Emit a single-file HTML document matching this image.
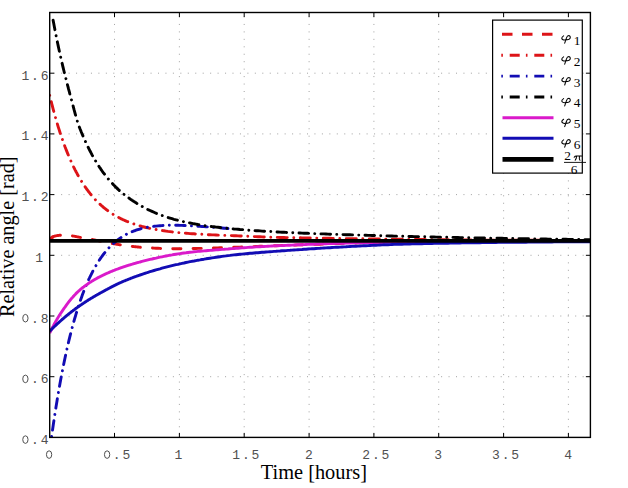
<!DOCTYPE html>
<html><head><meta charset="utf-8"><title>Relative angle plot</title>
<style>
html,body{margin:0;padding:0;background:#fff;}
body{width:628px;height:488px;overflow:hidden;position:relative;font-family:"Liberation Sans",sans-serif;}
</style></head><body>
<svg width="628" height="488" viewBox="0 0 628 488" style="position:absolute;left:0;top:0">
<rect x="0" y="0" width="628" height="488" fill="#fff"/>
<g stroke="#4a4a4a" stroke-width="1" stroke-dasharray="1 6.45" opacity="0.5"><line x1="114.5" y1="16.5" x2="114.5" y2="437.4"/><line x1="179.4" y1="16.5" x2="179.4" y2="437.4"/><line x1="244.2" y1="16.5" x2="244.2" y2="437.4"/><line x1="309.1" y1="16.5" x2="309.1" y2="437.4"/><line x1="373.9" y1="16.5" x2="373.9" y2="437.4"/><line x1="438.7" y1="16.5" x2="438.7" y2="437.4"/><line x1="503.6" y1="16.5" x2="503.6" y2="437.4"/><line x1="568.4" y1="16.5" x2="568.4" y2="437.4"/><line x1="53.7" y1="376.7" x2="590.4" y2="376.7"/><line x1="53.7" y1="316.0" x2="590.4" y2="316.0"/><line x1="53.7" y1="255.3" x2="590.4" y2="255.3"/><line x1="53.7" y1="194.6" x2="590.4" y2="194.6"/><line x1="53.7" y1="133.9" x2="590.4" y2="133.9"/><line x1="53.7" y1="73.2" x2="590.4" y2="73.2"/></g>
<clipPath id="c"><rect x="49.7" y="12.5" width="540.6999999999999" height="424.9"/></clipPath>
<g clip-path="url(#c)" fill="none" stroke-linejoin="round">
<path d="M49.7 238.1 L50.2 237.8 L50.7 237.6 L51.2 237.3 L51.7 237.1 L52.2 236.9 L52.7 236.7 L53.2 236.6 L53.7 236.4 L54.2 236.3 L54.7 236.1 L55.2 236.0 L55.7 235.9 L56.2 235.8 L56.7 235.7 L57.2 235.6 L57.7 235.5 L58.2 235.5 L58.7 235.4 L59.2 235.3 L59.7 235.3 L60.2 235.3 L60.7 235.2 L61.2 235.2 L61.7 235.2 L62.2 235.1 L62.7 235.1 L63.2 235.1 L63.7 235.1 L64.2 235.1 L64.7 235.1 L65.2 235.2 L65.7 235.2 L66.2 235.2 L66.7 235.2 L67.2 235.3 L67.7 235.3 L68.2 235.4 L68.7 235.4 L69.2 235.5 L69.7 235.5 L70.2 235.6 L70.7 235.7 L71.2 235.7 L71.7 235.8 L72.2 235.9 L72.7 236.0 L73.2 236.1 L73.7 236.1 L74.2 236.2 L74.7 236.3 L75.2 236.4 L75.7 236.5 L76.2 236.6 L76.7 236.7 L77.2 236.8 L77.7 236.9 L78.2 237.0 L78.7 237.1 L79.2 237.2 L79.7 237.3 L80.2 237.4 L80.7 237.5 L81.2 237.5 L81.7 237.6 L82.2 237.7 L82.7 237.8 L83.2 237.9 L83.7 238.0 L84.2 238.1 L84.7 238.2 L85.2 238.3 L85.7 238.4 L86.2 238.4 L86.7 238.5 L87.2 238.6 L87.7 238.7 L88.2 238.8 L88.7 238.9 L89.2 239.0 L89.7 239.1 L90.2 239.2 L90.7 239.3 L91.2 239.3 L91.7 239.4 L92.2 239.5 L92.7 239.6 L93.2 239.7 L93.7 239.8 L94.2 239.9 L94.7 240.0 L95.2 240.1 L95.7 240.2 L96.2 240.3 L96.7 240.4 L97.2 240.5 L97.7 240.6 L98.2 240.7 L98.7 240.8 L99.2 240.9 L99.7 241.0 L100.2 241.1 L100.7 241.2 L101.2 241.3 L101.7 241.4 L102.2 241.5 L102.7 241.6 L103.2 241.7 L103.7 241.8 L104.2 241.9 L104.7 242.0 L105.2 242.1 L105.7 242.2 L106.2 242.3 L106.7 242.4 L107.2 242.5 L107.7 242.6 L108.2 242.7 L108.7 242.8 L109.2 242.9 L109.7 243.0 L110.2 243.1 L110.7 243.2 L111.2 243.3 L111.7 243.4 L112.2 243.5 L112.7 243.6 L113.2 243.7 L113.7 243.7 L114.2 243.8 L114.7 243.9 L115.2 244.0 L115.7 244.1 L116.2 244.2 L116.7 244.3 L117.2 244.3 L117.7 244.4 L118.2 244.5 L118.7 244.6 L119.2 244.7 L119.7 244.7 L120.2 244.8 L120.7 244.9 L121.2 245.0 L121.7 245.0 L122.2 245.1 L122.7 245.2 L123.2 245.3 L123.7 245.3 L124.2 245.4 L124.7 245.5 L125.2 245.5 L125.7 245.6 L126.2 245.7 L126.7 245.7 L127.2 245.8 L127.7 245.9 L128.2 245.9 L128.7 246.0 L129.2 246.1 L129.7 246.1 L130.2 246.2 L130.7 246.2 L131.2 246.3 L131.7 246.3 L132.2 246.4 L132.7 246.5 L133.2 246.5 L133.7 246.6 L134.2 246.6 L134.7 246.7 L135.2 246.7 L135.7 246.8 L136.2 246.8 L136.7 246.9 L137.2 246.9 L137.7 247.0 L138.2 247.0 L138.7 247.1 L139.2 247.1 L139.7 247.2 L140.0 247.2 L142.0 247.4 L144.0 247.5 L146.0 247.7 L148.0 247.8 L150.0 247.9 L152.0 248.0 L154.0 248.1 L156.0 248.2 L158.0 248.3 L160.0 248.4 L162.0 248.5 L164.0 248.5 L166.0 248.6 L168.0 248.6 L170.0 248.6 L172.0 248.7 L174.0 248.7 L176.0 248.7 L178.0 248.7 L180.0 248.7 L182.0 248.7 L184.0 248.7 L186.0 248.6 L188.0 248.6 L190.0 248.6 L192.0 248.6 L194.0 248.5 L196.0 248.5 L198.0 248.4 L200.0 248.4 L202.0 248.3 L204.0 248.3 L206.0 248.2 L208.0 248.2 L210.0 248.1 L212.0 248.1 L214.0 248.0 L216.0 247.9 L218.0 247.9 L220.0 247.8 L222.0 247.7 L224.0 247.7 L226.0 247.6 L228.0 247.5 L230.0 247.5 L232.0 247.4 L234.0 247.3 L236.0 247.2 L238.0 247.2 L240.0 247.1 L242.0 247.0 L244.0 246.9 L246.0 246.9 L248.0 246.8 L250.0 246.7 L252.0 246.6 L254.0 246.6 L256.0 246.5 L258.0 246.4 L260.0 246.3 L262.0 246.2 L264.0 246.2 L266.0 246.1 L268.0 246.0 L270.0 245.9 L272.0 245.9 L274.0 245.8 L276.0 245.7 L278.0 245.6 L280.0 245.6 L282.0 245.5 L284.0 245.4 L286.0 245.4 L288.0 245.3 L290.0 245.2 L292.0 245.1 L294.0 245.1 L296.0 245.0 L298.0 244.9 L300.0 244.9 L302.0 244.8 L304.0 244.7 L306.0 244.7 L308.0 244.6 L310.0 244.5 L312.0 244.5 L314.0 244.4 L316.0 244.3 L318.0 244.3 L320.0 244.2 L322.0 244.1 L324.0 244.0 L326.0 244.0 L328.0 243.9 L330.0 243.8 L332.0 243.8 L334.0 243.7 L336.0 243.6 L338.0 243.6 L340.0 243.5 L342.0 243.4 L344.0 243.4 L346.0 243.3 L348.0 243.2 L350.0 243.2 L352.0 243.1 L354.0 243.0 L356.0 243.0 L358.0 242.9 L360.0 242.9 L362.0 242.8 L364.0 242.7 L366.0 242.7 L368.0 242.6 L370.0 242.6 L372.0 242.5 L374.0 242.5 L376.0 242.4 L378.0 242.4 L380.0 242.3 L382.0 242.3 L384.0 242.2 L386.0 242.2 L388.0 242.1 L390.0 242.1 L392.0 242.1 L394.0 242.0 L396.0 242.0 L398.0 242.0 L400.0 241.9 L402.0 241.9 L404.0 241.9 L406.0 241.8 L408.0 241.8 L410.0 241.8 L412.0 241.7 L414.0 241.7 L416.0 241.7 L418.0 241.7 L420.0 241.6 L422.0 241.6 L424.0 241.6 L426.0 241.6 L428.0 241.5 L430.0 241.5 L432.0 241.5 L434.0 241.5 L436.0 241.4 L438.0 241.4 L440.0 241.4 L442.0 241.4 L444.0 241.3 L446.0 241.3 L448.0 241.3 L450.0 241.3 L452.0 241.3 L454.0 241.2 L456.0 241.2 L458.0 241.2 L460.0 241.2 L462.0 241.2 L464.0 241.1 L466.0 241.1 L468.0 241.1 L470.0 241.1 L472.0 241.1 L474.0 241.1 L476.0 241.0 L478.0 241.0 L480.0 241.0 L482.0 241.0 L484.0 241.0 L486.0 241.0 L488.0 241.0 L490.0 240.9 L492.0 240.9 L494.0 240.9 L496.0 240.9 L498.0 240.9 L500.0 240.9 L502.0 240.9 L504.0 240.9 L506.0 240.8 L508.0 240.8 L510.0 240.8 L512.0 240.8 L514.0 240.8 L516.0 240.8 L518.0 240.8 L520.0 240.8 L522.0 240.8 L524.0 240.8 L526.0 240.7 L528.0 240.7 L530.0 240.7 L532.0 240.7 L534.0 240.7 L536.0 240.7 L538.0 240.7 L540.0 240.7 L542.0 240.7 L544.0 240.7 L546.0 240.7 L548.0 240.6 L550.0 240.6 L552.0 240.6 L554.0 240.6 L556.0 240.6 L558.0 240.6 L560.0 240.6 L562.0 240.6 L564.0 240.6 L566.0 240.6 L568.0 240.6 L570.0 240.6 L572.0 240.6 L574.0 240.6 L576.0 240.6 L578.0 240.6 L580.0 240.5 L582.0 240.5 L584.0 240.5 L586.0 240.5 L588.0 240.5 L590.0 240.5 L590.4 240.5" stroke="#dd1418" stroke-width="2.9" stroke-dasharray="8.2 12.1" stroke-dashoffset="17.3" stroke-linecap="round"/>
<path d="M49.7 95.4 L50.2 97.5 L50.7 99.5 L51.2 101.5 L51.7 103.5 L52.2 105.4 L52.7 107.4 L53.2 109.3 L53.7 111.1 L54.2 113.0 L54.7 114.8 L55.2 116.6 L55.7 118.3 L56.2 120.1 L56.7 121.8 L57.2 123.5 L57.7 125.1 L58.2 126.8 L58.7 128.4 L59.2 129.9 L59.7 131.5 L60.2 133.1 L60.7 134.6 L61.2 136.1 L61.7 137.5 L62.2 139.0 L62.7 140.4 L63.2 141.8 L63.7 143.2 L64.2 144.6 L64.7 145.9 L65.2 147.3 L65.7 148.6 L66.2 149.9 L66.7 151.1 L67.2 152.4 L67.7 153.6 L68.2 154.8 L68.7 156.0 L69.2 157.2 L69.7 158.4 L70.2 159.5 L70.7 160.6 L71.2 161.7 L71.7 162.8 L72.2 163.9 L72.7 165.0 L73.2 166.0 L73.7 167.1 L74.2 168.1 L74.7 169.1 L75.2 170.1 L75.7 171.0 L76.2 172.0 L76.7 172.9 L77.2 173.8 L77.7 174.8 L78.2 175.7 L78.7 176.5 L79.2 177.4 L79.7 178.3 L80.2 179.1 L80.7 180.0 L81.2 180.8 L81.7 181.6 L82.2 182.4 L82.7 183.2 L83.2 184.0 L83.7 184.7 L84.2 185.5 L84.7 186.2 L85.2 186.9 L85.7 187.7 L86.2 188.4 L86.7 189.1 L87.2 189.8 L87.7 190.4 L88.2 191.1 L88.7 191.8 L89.2 192.4 L89.7 193.0 L90.2 193.7 L90.7 194.3 L91.2 194.9 L91.7 195.5 L92.2 196.1 L92.7 196.7 L93.2 197.2 L93.7 197.8 L94.2 198.4 L94.7 198.9 L95.2 199.5 L95.7 200.0 L96.2 200.5 L96.7 201.0 L97.2 201.5 L97.7 202.0 L98.2 202.5 L98.7 203.0 L99.2 203.5 L99.7 204.0 L100.2 204.4 L100.7 204.9 L101.2 205.3 L101.7 205.8 L102.2 206.2 L102.7 206.6 L103.2 207.1 L103.7 207.5 L104.2 207.9 L104.7 208.3 L105.2 208.7 L105.7 209.1 L106.2 209.5 L106.7 209.9 L107.2 210.3 L107.7 210.6 L108.2 211.0 L108.7 211.3 L109.2 211.7 L109.7 212.1 L110.2 212.4 L110.7 212.7 L111.2 213.1 L111.7 213.4 L112.2 213.7 L112.7 214.0 L113.2 214.4 L113.7 214.7 L114.2 215.0 L114.7 215.3 L115.2 215.6 L115.7 215.9 L116.2 216.1 L116.7 216.4 L117.2 216.7 L117.7 217.0 L118.2 217.3 L118.7 217.5 L119.2 217.8 L119.7 218.0 L120.2 218.3 L120.7 218.6 L121.2 218.8 L121.7 219.0 L122.2 219.3 L122.7 219.5 L123.2 219.8 L123.7 220.0 L124.2 220.2 L124.7 220.4 L125.2 220.7 L125.7 220.9 L126.2 221.1 L126.7 221.3 L127.2 221.5 L127.7 221.7 L128.2 221.9 L128.7 222.1 L129.2 222.3 L129.7 222.5 L130.2 222.7 L130.7 222.9 L131.2 223.1 L131.7 223.2 L132.2 223.4 L132.7 223.6 L133.2 223.8 L133.7 223.9 L134.2 224.1 L134.7 224.3 L135.2 224.4 L135.7 224.6 L136.2 224.8 L136.7 224.9 L137.2 225.1 L137.7 225.2 L138.2 225.4 L138.7 225.5 L139.2 225.7 L139.7 225.8 L140.0 225.9 L142.0 226.5 L144.0 227.0 L146.0 227.5 L148.0 227.9 L150.0 228.4 L152.0 228.8 L154.0 229.2 L156.0 229.5 L158.0 229.9 L160.0 230.2 L162.0 230.5 L164.0 230.8 L166.0 231.1 L168.0 231.4 L170.0 231.6 L172.0 231.9 L174.0 232.1 L176.0 232.3 L178.0 232.5 L180.0 232.7 L182.0 232.9 L184.0 233.1 L186.0 233.2 L188.0 233.4 L190.0 233.6 L192.0 233.7 L194.0 233.8 L196.0 234.0 L198.0 234.1 L200.0 234.2 L202.0 234.3 L204.0 234.5 L206.0 234.6 L208.0 234.7 L210.0 234.8 L212.0 234.9 L214.0 234.9 L216.0 235.0 L218.0 235.1 L220.0 235.2 L222.0 235.3 L224.0 235.4 L226.0 235.4 L228.0 235.5 L230.0 235.6 L232.0 235.6 L234.0 235.7 L236.0 235.8 L238.0 235.9 L240.0 236.0 L242.0 236.0 L244.0 236.1 L246.0 236.2 L248.0 236.3 L250.0 236.4 L252.0 236.5 L254.0 236.6 L256.0 236.6 L258.0 236.7 L260.0 236.8 L262.0 236.9 L264.0 237.0 L266.0 237.0 L268.0 237.1 L270.0 237.2 L272.0 237.3 L274.0 237.3 L276.0 237.4 L278.0 237.4 L280.0 237.5 L282.0 237.5 L284.0 237.5 L286.0 237.6 L288.0 237.6 L290.0 237.7 L292.0 237.7 L294.0 237.7 L296.0 237.8 L298.0 237.8 L300.0 237.8 L302.0 237.9 L304.0 237.9 L306.0 237.9 L308.0 238.0 L310.0 238.0 L312.0 238.0 L314.0 238.1 L316.0 238.1 L318.0 238.1 L320.0 238.2 L322.0 238.2 L324.0 238.2 L326.0 238.3 L328.0 238.3 L330.0 238.3 L332.0 238.4 L334.0 238.4 L336.0 238.4 L338.0 238.4 L340.0 238.5 L342.0 238.5 L344.0 238.5 L346.0 238.6 L348.0 238.6 L350.0 238.6 L352.0 238.7 L354.0 238.7 L356.0 238.7 L358.0 238.7 L360.0 238.8 L362.0 238.8 L364.0 238.8 L366.0 238.8 L368.0 238.9 L370.0 238.9 L372.0 238.9 L374.0 238.9 L376.0 239.0 L378.0 239.0 L380.0 239.0 L382.0 239.1 L384.0 239.1 L386.0 239.1 L388.0 239.1 L390.0 239.2 L392.0 239.2 L394.0 239.2 L396.0 239.2 L398.0 239.3 L400.0 239.3 L402.0 239.3 L404.0 239.3 L406.0 239.3 L408.0 239.4 L410.0 239.4 L412.0 239.4 L414.0 239.4 L416.0 239.5 L418.0 239.5 L420.0 239.5 L422.0 239.5 L424.0 239.5 L426.0 239.6 L428.0 239.6 L430.0 239.6 L432.0 239.6 L434.0 239.6 L436.0 239.7 L438.0 239.7 L440.0 239.7 L442.0 239.7 L444.0 239.7 L446.0 239.8 L448.0 239.8 L450.0 239.8 L452.0 239.8 L454.0 239.8 L456.0 239.8 L458.0 239.9 L460.0 239.9 L462.0 239.9 L464.0 239.9 L466.0 239.9 L468.0 239.9 L470.0 239.9 L472.0 240.0 L474.0 240.0 L476.0 240.0 L478.0 240.0 L480.0 240.0 L482.0 240.0 L484.0 240.0 L486.0 240.1 L488.0 240.1 L490.0 240.1 L492.0 240.1 L494.0 240.1 L496.0 240.1 L498.0 240.1 L500.0 240.1 L502.0 240.1 L504.0 240.2 L506.0 240.2 L508.0 240.2 L510.0 240.2 L512.0 240.2 L514.0 240.2 L516.0 240.2 L518.0 240.2 L520.0 240.2 L522.0 240.3 L524.0 240.3 L526.0 240.3 L528.0 240.3 L530.0 240.3 L532.0 240.3 L534.0 240.3 L536.0 240.3 L538.0 240.3 L540.0 240.3 L542.0 240.3 L544.0 240.3 L546.0 240.3 L548.0 240.4 L550.0 240.4 L552.0 240.4 L554.0 240.4 L556.0 240.4 L558.0 240.4 L560.0 240.4 L562.0 240.4 L564.0 240.4 L566.0 240.4 L568.0 240.4 L570.0 240.4 L572.0 240.4 L574.0 240.4 L576.0 240.4 L578.0 240.4 L580.0 240.4 L582.0 240.4 L584.0 240.5 L586.0 240.5 L588.0 240.5 L590.0 240.5 L590.4 240.5" stroke="#dd1418" stroke-width="2.9" stroke-dasharray="10 6.5 0.01 6.5" stroke-dashoffset="16.5" stroke-linecap="round"/>
<path d="M51.5 437.2 L52.0 433.7 L52.5 430.2 L53.0 426.7 L53.5 423.3 L54.0 420.0 L54.5 416.7 L55.0 413.4 L55.5 410.2 L56.0 407.1 L56.5 404.0 L57.0 400.9 L57.5 397.9 L58.0 395.0 L58.5 392.0 L59.0 389.2 L59.5 386.3 L60.0 383.6 L60.5 380.8 L61.0 378.1 L61.5 375.5 L62.0 372.8 L62.5 370.3 L63.0 367.7 L63.5 365.2 L64.0 362.8 L64.5 360.4 L65.0 358.0 L65.5 355.6 L66.0 353.3 L66.5 351.1 L67.0 348.8 L67.5 346.6 L68.0 344.5 L68.5 342.3 L69.0 340.2 L69.5 338.2 L70.0 336.1 L70.5 334.1 L71.0 332.2 L71.5 330.2 L72.0 328.3 L72.5 326.4 L73.0 324.6 L73.5 322.8 L74.0 321.0 L74.5 319.2 L75.0 317.5 L75.5 315.8 L76.0 314.1 L76.5 312.5 L77.0 310.8 L77.5 309.3 L78.0 307.7 L78.5 306.1 L79.0 304.6 L79.5 303.1 L80.0 301.6 L80.5 300.2 L81.0 298.8 L81.5 297.4 L82.0 296.0 L82.5 294.6 L83.0 293.3 L83.5 292.0 L84.0 290.7 L84.5 289.4 L85.0 288.2 L85.5 287.0 L86.0 285.8 L86.5 284.6 L87.0 283.4 L87.5 282.3 L88.0 281.1 L88.5 280.0 L89.0 278.9 L89.5 277.9 L90.0 276.8 L90.5 275.8 L91.0 274.8 L91.5 273.8 L92.0 272.8 L92.5 271.8 L93.0 270.8 L93.5 269.9 L94.0 269.0 L94.5 268.1 L95.0 267.2 L95.5 266.3 L96.0 265.5 L96.5 264.6 L97.0 263.8 L97.5 263.0 L98.0 262.2 L98.5 261.4 L99.0 260.6 L99.5 259.9 L100.0 259.1 L100.5 258.4 L101.0 257.7 L101.5 257.0 L102.0 256.3 L102.5 255.6 L103.0 254.9 L103.5 254.3 L104.0 253.6 L104.5 253.0 L105.0 252.4 L105.5 251.8 L106.0 251.2 L106.5 250.6 L107.0 250.0 L107.5 249.4 L108.0 248.9 L108.5 248.3 L109.0 247.8 L109.5 247.3 L110.0 246.8 L110.5 246.2 L111.0 245.7 L111.5 245.3 L112.0 244.8 L112.5 244.3 L113.0 243.8 L113.5 243.4 L114.0 243.0 L114.5 242.5 L115.0 242.1 L115.5 241.7 L116.0 241.3 L116.5 240.9 L117.0 240.5 L117.5 240.1 L118.0 239.7 L118.5 239.3 L119.0 239.0 L119.5 238.6 L120.0 238.3 L120.5 237.9 L121.0 237.6 L121.5 237.2 L122.0 236.9 L122.5 236.6 L123.0 236.3 L123.5 236.0 L124.0 235.7 L124.5 235.4 L125.0 235.1 L125.5 234.8 L126.0 234.6 L126.5 234.3 L127.0 234.0 L127.5 233.8 L128.0 233.5 L128.5 233.3 L129.0 233.1 L129.5 232.8 L130.0 232.6 L130.5 232.4 L131.0 232.2 L131.5 231.9 L132.0 231.7 L132.5 231.5 L133.0 231.3 L133.5 231.1 L134.0 230.9 L134.5 230.8 L135.0 230.6 L135.5 230.4 L136.0 230.2 L136.5 230.0 L137.0 229.9 L137.5 229.7 L138.0 229.6 L138.5 229.4 L139.0 229.3 L139.5 229.1 L140.0 229.0 L142.0 228.4 L144.0 228.0 L146.0 227.5 L148.0 227.2 L150.0 226.8 L152.0 226.5 L154.0 226.3 L156.0 226.1 L158.0 225.9 L160.0 225.7 L162.0 225.6 L164.0 225.5 L166.0 225.4 L168.0 225.3 L170.0 225.3 L172.0 225.3 L174.0 225.3 L176.0 225.3 L178.0 225.3 L180.0 225.4 L182.0 225.4 L184.0 225.5 L186.0 225.6 L188.0 225.7 L190.0 225.8 L192.0 225.9 L194.0 226.0 L196.0 226.1 L198.0 226.2 L200.0 226.4 L202.0 226.5 L204.0 226.6 L206.0 226.8 L208.0 226.9 L210.0 227.1 L212.0 227.2 L214.0 227.4 L216.0 227.5 L218.0 227.7 L220.0 227.8 L222.0 228.0 L224.0 228.2 L226.0 228.3 L228.0 228.5" stroke="#120cb4" stroke-width="2.9" stroke-dasharray="9.5 6.3 0.01 6.35" stroke-dashoffset="14.95" stroke-linecap="round"/>
<path d="M52.7 17.9 L53.2 20.7 L53.7 23.3 L54.2 26.0 L54.7 28.6 L55.2 31.2 L55.7 33.7 L56.2 36.2 L56.7 38.7 L57.2 41.1 L57.7 43.5 L58.2 45.9 L58.7 48.2 L59.2 50.5 L59.7 52.8 L60.2 55.1 L60.7 57.3 L61.2 59.5 L61.7 61.6 L62.2 63.7 L62.7 65.8 L63.2 67.9 L63.7 70.0 L64.2 72.0 L64.7 74.0 L65.2 75.9 L65.7 77.9 L66.2 79.8 L66.6 81.7 L67.1 83.5 L67.6 85.3 L68.1 87.2 L68.5 88.9 L69.0 90.7 L69.5 92.4 L69.9 94.2 L70.4 95.9 L70.9 97.5 L71.3 99.2 L71.7 100.8 L72.2 102.4 L72.6 104.0 L73.0 105.6 L73.4 107.1 L73.8 108.6 L74.2 110.2 L74.6 111.6 L75.0 113.1 L75.4 114.6 L75.8 116.0 L76.2 117.4 L76.6 118.8 L77.0 120.2 L77.4 121.5 L77.9 122.9 L78.3 124.2 L78.8 125.5 L79.2 126.8 L79.7 128.0 L80.2 129.3 L80.7 130.5 L81.2 131.8 L81.7 133.0 L82.2 134.2 L82.7 135.3 L83.2 136.5 L83.7 137.6 L84.2 138.8 L84.7 139.9 L85.2 141.0 L85.7 142.1 L86.2 143.2 L86.7 144.2 L87.2 145.3 L87.7 146.3 L88.2 147.3 L88.7 148.3 L89.2 149.3 L89.7 150.3 L90.2 151.3 L90.7 152.2 L91.2 153.2 L91.7 154.1 L92.2 155.1 L92.7 156.0 L93.2 156.9 L93.7 157.8 L94.2 158.6 L94.7 159.5 L95.2 160.4 L95.7 161.2 L96.2 162.0 L96.7 162.9 L97.2 163.7 L97.7 164.5 L98.2 165.3 L98.7 166.0 L99.2 166.8 L99.7 167.6 L100.3 168.3 L100.8 169.1 L101.3 169.8 L101.8 170.5 L102.3 171.3 L102.8 172.0 L103.3 172.7 L103.9 173.4 L104.4 174.0 L104.9 174.7 L105.4 175.4 L105.9 176.0 L106.4 176.7 L107.0 177.3 L107.5 178.0 L108.0 178.6 L108.5 179.2 L109.0 179.8 L109.6 180.4 L110.1 181.0 L110.6 181.6 L111.1 182.2 L111.6 182.8 L112.2 183.3 L112.7 183.9 L113.2 184.4 L113.7 185.0 L114.3 185.5 L114.8 186.1 L115.3 186.6 L115.8 187.1 L116.4 187.6 L116.9 188.1 L117.4 188.6 L117.9 189.1 L118.4 189.6 L119.0 190.1 L119.5 190.6 L120.0 191.0 L120.5 191.5 L121.1 192.0 L121.6 192.4 L122.1 192.9 L122.7 193.3 L123.2 193.8 L123.7 194.2 L124.3 194.6 L124.8 195.0 L125.3 195.5 L125.9 195.9 L126.4 196.3 L127.0 196.7 L127.5 197.1 L128.1 197.5 L128.6 197.9 L129.1 198.2 L129.7 198.6 L130.2 199.0 L130.8 199.4 L131.3 199.7 L131.8 200.1 L132.4 200.5 L132.9 200.8 L133.5 201.2 L134.0 201.5 L134.5 201.8 L135.0 202.2 L135.6 202.5 L136.1 202.8 L136.6 203.2 L137.1 203.5 L137.7 203.8 L138.2 204.1 L138.7 204.4 L139.2 204.7 L139.7 205.0 L140.0 205.2 L142.0 206.4 L144.0 207.5 L146.0 208.5 L148.0 209.6 L150.0 210.5 L152.0 211.4 L154.0 212.3 L156.0 213.2 L158.0 214.0 L160.0 214.7 L162.0 215.5 L164.0 216.2 L166.0 216.9 L168.0 217.5 L170.0 218.1 L172.0 218.7 L174.0 219.3 L176.0 219.8 L178.0 220.3 L180.0 220.8 L182.0 221.3 L184.0 221.8 L186.0 222.2 L188.0 222.6 L190.0 223.0 L192.0 223.4 L194.0 223.8 L196.0 224.1 L198.0 224.5 L200.0 224.8 L202.0 225.1 L204.0 225.5 L206.0 225.7 L208.0 226.0 L210.0 226.3 L212.0 226.6 L214.0 226.8 L216.0 227.1 L218.0 227.3 L220.0 227.5 L222.0 227.8 L224.0 228.0 L226.0 228.2 L228.0 228.4 L230.0 228.6 L232.0 228.8 L234.0 229.0 L236.0 229.1 L238.0 229.3 L240.0 229.5 L242.0 229.6 L244.0 229.8 L246.0 230.0 L248.0 230.1 L250.0 230.3 L252.0 230.4 L254.0 230.5 L256.0 230.7 L258.0 230.8 L260.0 230.9 L262.0 231.1 L264.0 231.2 L266.0 231.3 L268.0 231.4 L270.0 231.5 L272.0 231.6 L274.0 231.8 L276.0 231.9 L278.0 232.0 L280.0 232.1 L282.0 232.2 L284.0 232.3 L286.0 232.4 L288.0 232.5 L290.0 232.6 L292.0 232.7 L294.0 232.7 L296.0 232.8 L298.0 232.9 L300.0 233.0 L302.0 233.1 L304.0 233.2 L306.0 233.3 L308.0 233.3 L310.0 233.4 L312.0 233.5 L314.0 233.6 L316.0 233.7 L318.0 233.7 L320.0 233.8 L322.0 233.9 L324.0 233.9 L326.0 234.0 L328.0 234.1 L330.0 234.2 L332.0 234.2 L334.0 234.3 L336.0 234.4 L338.0 234.4 L340.0 234.5 L342.0 234.6 L344.0 234.6 L346.0 234.7 L348.0 234.8 L350.0 234.8 L352.0 234.9 L354.0 234.9 L356.0 235.0 L358.0 235.1 L360.0 235.1 L362.0 235.2 L364.0 235.2 L366.0 235.3 L368.0 235.4 L370.0 235.4 L372.0 235.5 L374.0 235.5 L376.0 235.6 L378.0 235.6 L380.0 235.7 L382.0 235.7 L384.0 235.8 L386.0 235.9 L388.0 235.9 L390.0 236.0 L392.0 236.0 L394.0 236.1 L396.0 236.1 L398.0 236.2 L400.0 236.2 L402.0 236.3 L404.0 236.3 L406.0 236.4 L408.0 236.4 L410.0 236.5 L412.0 236.5 L414.0 236.6 L416.0 236.6 L418.0 236.6 L420.0 236.7 L422.0 236.7 L424.0 236.8 L426.0 236.8 L428.0 236.9 L430.0 236.9 L432.0 237.0 L434.0 237.0 L436.0 237.1 L438.0 237.1 L440.0 237.1 L442.0 237.2 L444.0 237.2 L446.0 237.3 L448.0 237.3 L450.0 237.3 L452.0 237.4 L454.0 237.4 L456.0 237.5 L458.0 237.5 L460.0 237.6 L462.0 237.6 L464.0 237.6 L466.0 237.7 L468.0 237.7 L470.0 237.7 L472.0 237.8 L474.0 237.8 L476.0 237.9 L478.0 237.9 L480.0 237.9 L482.0 238.0 L484.0 238.0 L486.0 238.1 L488.0 238.1 L490.0 238.1 L492.0 238.2 L494.0 238.2 L496.0 238.2 L498.0 238.3 L500.0 238.3 L502.0 238.3 L504.0 238.4 L506.0 238.4 L508.0 238.4 L510.0 238.5 L512.0 238.5 L514.0 238.5 L516.0 238.6 L518.0 238.6 L520.0 238.6 L522.0 238.7 L524.0 238.7 L526.0 238.7 L528.0 238.8 L530.0 238.8 L532.0 238.8 L534.0 238.9 L536.0 238.9 L538.0 238.9 L540.0 239.0 L542.0 239.0 L544.0 239.0 L546.0 239.0 L548.0 239.1 L550.0 239.1 L552.0 239.1 L554.0 239.2 L556.0 239.2 L558.0 239.2 L560.0 239.2 L562.0 239.3 L564.0 239.3 L566.0 239.3 L568.0 239.4 L570.0 239.4 L572.0 239.4 L574.0 239.4 L576.0 239.5 L578.0 239.5 L580.0 239.5 L582.0 239.5 L584.0 239.6 L586.0 239.6 L588.0 239.6 L590.0 239.6 L590.4 239.7" stroke="#000" stroke-width="2.9" stroke-dasharray="9.6 6.2 0.01 6.2" stroke-dashoffset="19.64" stroke-linecap="round"/>
<path d="M49.7 333.1 L50.2 332.0 L50.7 331.0 L51.2 330.0 L51.7 329.0 L52.2 328.0 L52.7 327.0 L53.2 326.1 L53.7 325.1 L54.2 324.2 L54.7 323.3 L55.2 322.4 L55.7 321.5 L56.2 320.6 L56.7 319.8 L57.2 318.9 L57.7 318.1 L58.2 317.3 L58.7 316.4 L59.2 315.6 L59.7 314.9 L60.2 314.1 L60.7 313.3 L61.2 312.6 L61.7 311.8 L62.2 311.1 L62.7 310.4 L63.2 309.6 L63.7 308.9 L64.2 308.2 L64.7 307.5 L65.2 306.8 L65.7 306.1 L66.2 305.4 L66.7 304.7 L67.2 304.0 L67.7 303.3 L68.2 302.6 L68.7 302.0 L69.2 301.3 L69.7 300.7 L70.2 300.1 L70.7 299.5 L71.2 298.9 L71.7 298.3 L72.2 297.7 L72.7 297.2 L73.2 296.6 L73.7 296.1 L74.2 295.5 L74.7 295.0 L75.2 294.5 L75.7 293.9 L76.2 293.4 L76.7 292.9 L77.2 292.4 L77.7 292.0 L78.2 291.5 L78.7 291.0 L79.2 290.6 L79.7 290.1 L80.2 289.7 L80.7 289.2 L81.2 288.8 L81.7 288.4 L82.2 288.0 L82.7 287.6 L83.2 287.2 L83.7 286.9 L84.2 286.5 L84.7 286.1 L85.2 285.7 L85.7 285.4 L86.2 285.0 L86.7 284.7 L87.2 284.3 L87.7 284.0 L88.2 283.6 L88.7 283.3 L89.2 282.9 L89.7 282.6 L90.2 282.3 L90.7 282.0 L91.2 281.7 L91.7 281.3 L92.2 281.0 L92.7 280.7 L93.2 280.4 L93.7 280.1 L94.2 279.8 L94.7 279.6 L95.2 279.3 L95.7 279.0 L96.2 278.7 L96.7 278.4 L97.2 278.1 L97.7 277.9 L98.2 277.6 L98.7 277.3 L99.2 277.1 L99.7 276.8 L100.2 276.6 L100.7 276.3 L101.2 276.1 L101.7 275.8 L102.2 275.6 L102.7 275.3 L103.2 275.1 L103.7 274.8 L104.2 274.6 L104.7 274.4 L105.2 274.1 L105.7 273.9 L106.2 273.7 L106.7 273.5 L107.2 273.2 L107.7 273.0 L108.2 272.8 L108.7 272.6 L109.2 272.4 L109.7 272.1 L110.2 271.9 L110.7 271.7 L111.2 271.5 L111.7 271.3 L112.2 271.1 L112.7 270.9 L113.2 270.7 L113.7 270.5 L114.2 270.3 L114.7 270.1 L115.2 269.9 L115.7 269.7 L116.2 269.5 L116.7 269.3 L117.2 269.2 L117.7 269.0 L118.2 268.8 L118.7 268.6 L119.2 268.4 L119.7 268.2 L120.2 268.1 L120.7 267.9 L121.2 267.7 L121.7 267.5 L122.2 267.4 L122.7 267.2 L123.2 267.0 L123.7 266.9 L124.2 266.7 L124.7 266.5 L125.2 266.4 L125.7 266.2 L126.2 266.0 L126.7 265.9 L127.2 265.7 L127.7 265.5 L128.2 265.4 L128.7 265.2 L129.2 265.1 L129.7 264.9 L130.2 264.8 L130.7 264.6 L131.2 264.5 L131.7 264.3 L132.2 264.2 L132.7 264.0 L133.2 263.9 L133.7 263.7 L134.2 263.6 L134.7 263.4 L135.2 263.3 L135.7 263.1 L136.2 263.0 L136.7 262.9 L137.2 262.7 L137.7 262.6 L138.2 262.4 L138.7 262.3 L139.2 262.2 L139.7 262.0 L140.0 262.0 L142.0 261.4 L144.0 260.9 L146.0 260.4 L148.0 259.9 L150.0 259.4 L152.0 259.0 L154.0 258.5 L156.0 258.1 L158.0 257.6 L160.0 257.2 L162.0 256.8 L164.0 256.4 L166.0 256.0 L168.0 255.6 L170.0 255.2 L172.0 254.9 L174.0 254.5 L176.0 254.2 L178.0 253.9 L180.0 253.6 L182.0 253.3 L184.0 253.0 L186.0 252.8 L188.0 252.5 L190.0 252.3 L192.0 252.1 L194.0 251.8 L196.0 251.6 L198.0 251.4 L200.0 251.2 L202.0 251.1 L204.0 250.9 L206.0 250.7 L208.0 250.5 L210.0 250.4 L212.0 250.2 L214.0 250.1 L216.0 249.9 L218.0 249.7 L220.0 249.6 L222.0 249.4 L224.0 249.3 L226.0 249.1 L228.0 249.0 L230.0 248.8 L232.0 248.6 L234.0 248.5 L236.0 248.3 L238.0 248.2 L240.0 248.0 L242.0 247.9 L244.0 247.7 L246.0 247.6 L248.0 247.4 L250.0 247.3 L252.0 247.2 L254.0 247.1 L256.0 246.9 L258.0 246.8 L260.0 246.7 L262.0 246.6 L264.0 246.5 L266.0 246.4 L268.0 246.2 L270.0 246.1 L272.0 246.0 L274.0 245.9 L276.0 245.8 L278.0 245.7 L280.0 245.6 L282.0 245.6 L284.0 245.5 L286.0 245.4 L288.0 245.3 L290.0 245.2 L292.0 245.1 L294.0 245.0 L296.0 244.9 L298.0 244.8 L300.0 244.7 L302.0 244.7 L304.0 244.6 L306.0 244.5 L308.0 244.4 L310.0 244.3 L312.0 244.2 L314.0 244.2 L316.0 244.1 L318.0 244.0 L320.0 243.9 L322.0 243.9 L324.0 243.8 L326.0 243.7 L328.0 243.6 L330.0 243.6 L332.0 243.5 L334.0 243.5 L336.0 243.4 L338.0 243.3 L340.0 243.3 L342.0 243.2 L344.0 243.2 L346.0 243.1 L348.0 243.1 L350.0 243.0 L352.0 243.0 L354.0 242.9 L356.0 242.9 L358.0 242.8 L360.0 242.8 L362.0 242.7 L364.0 242.7 L366.0 242.6 L368.0 242.6 L370.0 242.6 L372.0 242.5 L374.0 242.5 L376.0 242.4 L378.0 242.4 L380.0 242.4 L382.0 242.3 L384.0 242.3 L386.0 242.3 L388.0 242.2 L390.0 242.2 L392.0 242.2 L394.0 242.1 L396.0 242.1 L398.0 242.1 L400.0 242.0 L402.0 242.0 L404.0 242.0 L406.0 241.9 L408.0 241.9 L410.0 241.9 L412.0 241.8 L414.0 241.8 L416.0 241.8 L418.0 241.8 L420.0 241.7 L422.0 241.7 L424.0 241.7 L426.0 241.6 L428.0 241.6 L430.0 241.6 L432.0 241.6 L434.0 241.5 L436.0 241.5 L438.0 241.5 L440.0 241.5 L442.0 241.4 L444.0 241.4 L446.0 241.4 L448.0 241.4 L450.0 241.4 L452.0 241.3 L454.0 241.3 L456.0 241.3 L458.0 241.3 L460.0 241.3 L462.0 241.3 L464.0 241.3 L466.0 241.2 L468.0 241.2 L470.0 241.2 L472.0 241.2 L474.0 241.2 L476.0 241.2 L478.0 241.2 L480.0 241.2 L482.0 241.2 L484.0 241.2 L486.0 241.2 L488.0 241.2 L490.0 241.1 L492.0 241.1 L494.0 241.1 L496.0 241.1 L498.0 241.1 L500.0 241.1 L502.0 241.1 L504.0 241.1 L506.0 241.1 L508.0 241.1 L510.0 241.1 L512.0 241.1 L514.0 241.1 L516.0 241.1 L518.0 241.1 L520.0 241.1 L522.0 241.1 L524.0 241.1 L526.0 241.0 L528.0 241.0 L530.0 241.0 L532.0 241.0 L534.0 241.0 L536.0 241.0 L538.0 241.0 L540.0 241.0 L542.0 241.0 L544.0 241.0 L546.0 241.0 L548.0 241.0 L550.0 241.0 L552.0 241.0 L554.0 241.0 L556.0 241.0 L558.0 241.0 L560.0 241.0 L562.0 241.0 L564.0 241.0 L566.0 241.0 L568.0 241.0 L570.0 241.0 L572.0 241.0 L574.0 241.0 L576.0 241.0 L578.0 241.0 L580.0 241.0 L582.0 241.0 L584.0 241.0 L586.0 241.0 L588.0 241.0 L590.0 241.0 L590.4 241.0" stroke="#da1aca" stroke-width="2.9"/>
<path d="M49.7 331.3 L50.2 330.8 L50.7 330.3 L51.2 329.8 L51.7 329.3 L52.2 328.8 L52.7 328.3 L53.2 327.8 L53.7 327.3 L54.2 326.8 L54.7 326.3 L55.2 325.8 L55.7 325.4 L56.2 324.9 L56.7 324.4 L57.2 323.9 L57.7 323.5 L58.2 323.0 L58.7 322.6 L59.2 322.1 L59.7 321.7 L60.2 321.2 L60.7 320.8 L61.2 320.3 L61.7 319.9 L62.2 319.4 L62.7 319.0 L63.2 318.6 L63.7 318.1 L64.2 317.7 L64.7 317.3 L65.2 316.9 L65.7 316.4 L66.2 316.0 L66.7 315.6 L67.2 315.2 L67.7 314.8 L68.2 314.4 L68.7 314.0 L69.2 313.6 L69.7 313.2 L70.2 312.8 L70.7 312.4 L71.2 312.0 L71.7 311.6 L72.2 311.2 L72.7 310.9 L73.2 310.5 L73.7 310.1 L74.2 309.7 L74.7 309.4 L75.2 309.0 L75.7 308.6 L76.2 308.3 L76.7 307.9 L77.2 307.5 L77.7 307.2 L78.2 306.8 L78.7 306.5 L79.2 306.1 L79.7 305.8 L80.2 305.4 L80.7 305.1 L81.2 304.7 L81.7 304.4 L82.2 304.0 L82.7 303.7 L83.2 303.4 L83.7 303.0 L84.2 302.7 L84.7 302.4 L85.2 302.1 L85.7 301.7 L86.2 301.4 L86.7 301.1 L87.2 300.8 L87.7 300.5 L88.2 300.1 L88.7 299.8 L89.2 299.5 L89.7 299.2 L90.2 298.9 L90.7 298.6 L91.2 298.3 L91.7 298.0 L92.2 297.7 L92.7 297.4 L93.2 297.1 L93.7 296.8 L94.2 296.5 L94.7 296.2 L95.2 295.9 L95.7 295.6 L96.2 295.3 L96.7 295.1 L97.2 294.8 L97.7 294.5 L98.2 294.2 L98.7 293.9 L99.2 293.6 L99.7 293.4 L100.2 293.1 L100.7 292.8 L101.2 292.5 L101.7 292.3 L102.2 292.0 L102.7 291.7 L103.2 291.4 L103.7 291.2 L104.2 290.9 L104.7 290.6 L105.2 290.4 L105.7 290.1 L106.2 289.8 L106.7 289.5 L107.2 289.3 L107.7 289.0 L108.2 288.7 L108.7 288.5 L109.2 288.2 L109.7 287.9 L110.2 287.7 L110.7 287.4 L111.2 287.1 L111.7 286.9 L112.2 286.6 L112.7 286.4 L113.2 286.1 L113.7 285.9 L114.2 285.6 L114.7 285.4 L115.2 285.1 L115.7 284.9 L116.2 284.6 L116.7 284.4 L117.2 284.1 L117.7 283.9 L118.2 283.7 L118.7 283.4 L119.2 283.2 L119.7 283.0 L120.2 282.7 L120.7 282.5 L121.2 282.3 L121.7 282.1 L122.2 281.8 L122.7 281.6 L123.2 281.4 L123.7 281.2 L124.2 281.0 L124.7 280.8 L125.2 280.6 L125.7 280.4 L126.2 280.2 L126.7 280.0 L127.2 279.8 L127.7 279.6 L128.2 279.4 L128.7 279.2 L129.2 279.0 L129.7 278.8 L130.2 278.6 L130.7 278.4 L131.2 278.2 L131.7 278.0 L132.2 277.8 L132.7 277.6 L133.2 277.4 L133.7 277.2 L134.2 277.1 L134.7 276.9 L135.2 276.7 L135.7 276.5 L136.2 276.3 L136.7 276.1 L137.2 276.0 L137.7 275.8 L138.2 275.6 L138.7 275.4 L139.2 275.3 L139.7 275.1 L140.0 275.0 L142.0 274.3 L144.0 273.6 L146.0 273.0 L148.0 272.3 L150.0 271.7 L152.0 271.1 L154.0 270.5 L156.0 269.9 L158.0 269.3 L160.0 268.8 L162.0 268.2 L164.0 267.7 L166.0 267.2 L168.0 266.7 L170.0 266.2 L172.0 265.7 L174.0 265.2 L176.0 264.7 L178.0 264.3 L180.0 263.8 L182.0 263.4 L184.0 263.0 L186.0 262.5 L188.0 262.1 L190.0 261.7 L192.0 261.3 L194.0 261.0 L196.0 260.6 L198.0 260.2 L200.0 259.9 L202.0 259.5 L204.0 259.2 L206.0 258.8 L208.0 258.5 L210.0 258.2 L212.0 257.9 L214.0 257.6 L216.0 257.3 L218.0 257.0 L220.0 256.7 L222.0 256.4 L224.0 256.1 L226.0 255.9 L228.0 255.6 L230.0 255.4 L232.0 255.1 L234.0 254.9 L236.0 254.7 L238.0 254.5 L240.0 254.3 L242.0 254.1 L244.0 253.9 L246.0 253.7 L248.0 253.5 L250.0 253.3 L252.0 253.2 L254.0 253.0 L256.0 252.8 L258.0 252.7 L260.0 252.5 L262.0 252.3 L264.0 252.2 L266.0 252.0 L268.0 251.9 L270.0 251.7 L272.0 251.6 L274.0 251.4 L276.0 251.3 L278.0 251.1 L280.0 251.0 L282.0 250.8 L284.0 250.7 L286.0 250.6 L288.0 250.4 L290.0 250.3 L292.0 250.1 L294.0 250.0 L296.0 249.9 L298.0 249.7 L300.0 249.6 L302.0 249.5 L304.0 249.3 L306.0 249.2 L308.0 249.0 L310.0 248.9 L312.0 248.8 L314.0 248.7 L316.0 248.5 L318.0 248.4 L320.0 248.3 L322.0 248.1 L324.0 248.0 L326.0 247.9 L328.0 247.8 L330.0 247.7 L332.0 247.5 L334.0 247.4 L336.0 247.3 L338.0 247.2 L340.0 247.1 L342.0 247.0 L344.0 246.9 L346.0 246.8 L348.0 246.6 L350.0 246.5 L352.0 246.4 L354.0 246.3 L356.0 246.2 L358.0 246.1 L360.0 246.0 L362.0 245.9 L364.0 245.8 L366.0 245.7 L368.0 245.6 L370.0 245.5 L372.0 245.4 L374.0 245.3 L376.0 245.2 L378.0 245.1 L380.0 245.0 L382.0 244.9 L384.0 244.8 L386.0 244.7 L388.0 244.7 L390.0 244.6 L392.0 244.5 L394.0 244.4 L396.0 244.4 L398.0 244.3 L400.0 244.2 L402.0 244.2 L404.0 244.1 L406.0 244.1 L408.0 244.0 L410.0 244.0 L412.0 243.9 L414.0 243.9 L416.0 243.8 L418.0 243.8 L420.0 243.7 L422.0 243.7 L424.0 243.6 L426.0 243.6 L428.0 243.5 L430.0 243.5 L432.0 243.5 L434.0 243.4 L436.0 243.4 L438.0 243.3 L440.0 243.3 L442.0 243.3 L444.0 243.2 L446.0 243.2 L448.0 243.2 L450.0 243.1 L452.0 243.1 L454.0 243.1 L456.0 243.0 L458.0 243.0 L460.0 243.0 L462.0 242.9 L464.0 242.9 L466.0 242.9 L468.0 242.8 L470.0 242.8 L472.0 242.8 L474.0 242.8 L476.0 242.7 L478.0 242.7 L480.0 242.7 L482.0 242.6 L484.0 242.6 L486.0 242.6 L488.0 242.6 L490.0 242.5 L492.0 242.5 L494.0 242.5 L496.0 242.5 L498.0 242.4 L500.0 242.4 L502.0 242.4 L504.0 242.4 L506.0 242.4 L508.0 242.3 L510.0 242.3 L512.0 242.3 L514.0 242.3 L516.0 242.3 L518.0 242.2 L520.0 242.2 L522.0 242.2 L524.0 242.2 L526.0 242.2 L528.0 242.1 L530.0 242.1 L532.0 242.1 L534.0 242.1 L536.0 242.1 L538.0 242.1 L540.0 242.0 L542.0 242.0 L544.0 242.0 L546.0 242.0 L548.0 242.0 L550.0 242.0 L552.0 242.0 L554.0 241.9 L556.0 241.9 L558.0 241.9 L560.0 241.9 L562.0 241.9 L564.0 241.9 L566.0 241.9 L568.0 241.9 L570.0 241.8 L572.0 241.8 L574.0 241.8 L576.0 241.8 L578.0 241.8 L580.0 241.8 L582.0 241.8 L584.0 241.8 L586.0 241.8 L588.0 241.8 L590.0 241.7 L590.4 241.7" stroke="#120cb4" stroke-width="2.9"/>
<path d="M49.7 238.3 L53.5 237.2" stroke="#dd1418" stroke-width="2.9"/>
<line x1="49.7" y1="240.85" x2="590.4" y2="240.85" stroke="#000" stroke-width="3.9"/>
</g>
<rect x="49.7" y="12.5" width="540.7" height="424.9" fill="none" stroke="#000" stroke-width="1.4"/>
<g stroke="#000" stroke-width="1"><line x1="114.5" y1="437.4" x2="114.5" y2="432.9"/><line x1="114.5" y1="12.5" x2="114.5" y2="17.0"/><line x1="179.4" y1="437.4" x2="179.4" y2="432.9"/><line x1="179.4" y1="12.5" x2="179.4" y2="17.0"/><line x1="244.2" y1="437.4" x2="244.2" y2="432.9"/><line x1="244.2" y1="12.5" x2="244.2" y2="17.0"/><line x1="309.1" y1="437.4" x2="309.1" y2="432.9"/><line x1="309.1" y1="12.5" x2="309.1" y2="17.0"/><line x1="373.9" y1="437.4" x2="373.9" y2="432.9"/><line x1="373.9" y1="12.5" x2="373.9" y2="17.0"/><line x1="438.7" y1="437.4" x2="438.7" y2="432.9"/><line x1="438.7" y1="12.5" x2="438.7" y2="17.0"/><line x1="503.6" y1="437.4" x2="503.6" y2="432.9"/><line x1="503.6" y1="12.5" x2="503.6" y2="17.0"/><line x1="568.4" y1="437.4" x2="568.4" y2="432.9"/><line x1="568.4" y1="12.5" x2="568.4" y2="17.0"/><line x1="49.7" y1="376.7" x2="54.2" y2="376.7"/><line x1="590.4" y1="376.7" x2="585.9" y2="376.7"/><line x1="49.7" y1="316.0" x2="54.2" y2="316.0"/><line x1="590.4" y1="316.0" x2="585.9" y2="316.0"/><line x1="49.7" y1="255.3" x2="54.2" y2="255.3"/><line x1="590.4" y1="255.3" x2="585.9" y2="255.3"/><line x1="49.7" y1="194.6" x2="54.2" y2="194.6"/><line x1="590.4" y1="194.6" x2="585.9" y2="194.6"/><line x1="49.7" y1="133.9" x2="54.2" y2="133.9"/><line x1="590.4" y1="133.9" x2="585.9" y2="133.9"/><line x1="49.7" y1="73.2" x2="54.2" y2="73.2"/><line x1="590.4" y1="73.2" x2="585.9" y2="73.2"/></g>
<rect x="492.6" y="20.1" width="89.7" height="153.0" fill="#fff" stroke="#000" stroke-width="1.2"/>
<line x1="502" y1="34.3" x2="553.5" y2="34.3" stroke="#dd1418" stroke-width="2.9" stroke-dasharray="10.5 9.5"/>
<line x1="501.3" y1="55.3" x2="553.5" y2="55.3" stroke="#dd1418" stroke-width="2.9" stroke-dasharray="1.6 6.8 10 6.2"/>
<line x1="501.3" y1="76.1" x2="553.5" y2="76.1" stroke="#120cb4" stroke-width="2.9" stroke-dasharray="1.6 6.8 10 6.2"/>
<line x1="501.3" y1="97.0" x2="553.5" y2="97.0" stroke="#000" stroke-width="2.9" stroke-dasharray="1.6 6.8 10 6.2"/>
<line x1="502.5" y1="117.7" x2="553.5" y2="117.7" stroke="#da1aca" stroke-width="2.9"/>
<line x1="502.5" y1="138.3" x2="553.5" y2="138.3" stroke="#120cb4" stroke-width="2.9"/>
<line x1="502.5" y1="159.4" x2="553.5" y2="159.4" stroke="#000" stroke-width="4.6"/>
<path transform="translate(561 34.7)" d="M2.6 1.2 C1.6 1.9 0.7 2.8 0.8 3.6 C1.0 4.8 2.4 5.3 3.8 5.3 C6.0 5.3 9.3 4.6 9.3 2.8 C9.3 1.6 8.6 0.9 7.8 0.9 C6.6 1.0 5.8 2.2 5.4 3.4 L3.7 8.5" fill="none" stroke="#000" stroke-width="1.05" stroke-linecap="round" stroke-linejoin="round"/>
<text x="577.2" y="44.7" text-anchor="middle" font-family="Liberation Serif" font-size="13.4" fill="#000">1</text>
<path transform="translate(561 55.7)" d="M2.6 1.2 C1.6 1.9 0.7 2.8 0.8 3.6 C1.0 4.8 2.4 5.3 3.8 5.3 C6.0 5.3 9.3 4.6 9.3 2.8 C9.3 1.6 8.6 0.9 7.8 0.9 C6.6 1.0 5.8 2.2 5.4 3.4 L3.7 8.5" fill="none" stroke="#000" stroke-width="1.05" stroke-linecap="round" stroke-linejoin="round"/>
<text x="577.2" y="65.7" text-anchor="middle" font-family="Liberation Serif" font-size="13.4" fill="#000">2</text>
<path transform="translate(561 76.5)" d="M2.6 1.2 C1.6 1.9 0.7 2.8 0.8 3.6 C1.0 4.8 2.4 5.3 3.8 5.3 C6.0 5.3 9.3 4.6 9.3 2.8 C9.3 1.6 8.6 0.9 7.8 0.9 C6.6 1.0 5.8 2.2 5.4 3.4 L3.7 8.5" fill="none" stroke="#000" stroke-width="1.05" stroke-linecap="round" stroke-linejoin="round"/>
<text x="577.2" y="86.5" text-anchor="middle" font-family="Liberation Serif" font-size="13.4" fill="#000">3</text>
<path transform="translate(561 97.4)" d="M2.6 1.2 C1.6 1.9 0.7 2.8 0.8 3.6 C1.0 4.8 2.4 5.3 3.8 5.3 C6.0 5.3 9.3 4.6 9.3 2.8 C9.3 1.6 8.6 0.9 7.8 0.9 C6.6 1.0 5.8 2.2 5.4 3.4 L3.7 8.5" fill="none" stroke="#000" stroke-width="1.05" stroke-linecap="round" stroke-linejoin="round"/>
<text x="577.2" y="107.4" text-anchor="middle" font-family="Liberation Serif" font-size="13.4" fill="#000">4</text>
<path transform="translate(561 118.1)" d="M2.6 1.2 C1.6 1.9 0.7 2.8 0.8 3.6 C1.0 4.8 2.4 5.3 3.8 5.3 C6.0 5.3 9.3 4.6 9.3 2.8 C9.3 1.6 8.6 0.9 7.8 0.9 C6.6 1.0 5.8 2.2 5.4 3.4 L3.7 8.5" fill="none" stroke="#000" stroke-width="1.05" stroke-linecap="round" stroke-linejoin="round"/>
<text x="577.2" y="128.1" text-anchor="middle" font-family="Liberation Serif" font-size="13.4" fill="#000">5</text>
<path transform="translate(561 138.7)" d="M2.6 1.2 C1.6 1.9 0.7 2.8 0.8 3.6 C1.0 4.8 2.4 5.3 3.8 5.3 C6.0 5.3 9.3 4.6 9.3 2.8 C9.3 1.6 8.6 0.9 7.8 0.9 C6.6 1.0 5.8 2.2 5.4 3.4 L3.7 8.5" fill="none" stroke="#000" stroke-width="1.05" stroke-linecap="round" stroke-linejoin="round"/>
<text x="577.2" y="148.7" text-anchor="middle" font-family="Liberation Serif" font-size="13.4" fill="#000">6</text>
<text x="567.5" y="160.4" text-anchor="middle" font-family="Liberation Serif" font-size="13.4" fill="#000">2</text>
<path d="M574.2 157.2 C574.8 156.2 575.4 156 576.4 156 L581.6 156 M576.6 156.2 C576.5 157.8 575.9 159.3 575.2 160.3 M579.4 156.2 C579.2 157.8 579.3 159.4 580 160.3" fill="none" stroke="#000" stroke-width="1.05" stroke-linecap="round"/>
<line x1="564" y1="162.4" x2="586" y2="162.4" stroke="#000" stroke-width="0.9"/>
<text x="574.2" y="174" text-anchor="middle" font-family="Liberation Serif" font-size="13.4" fill="#000">6</text>
<ellipse cx="49.1" cy="454.6" rx="2.65" ry="3.8" fill="none" stroke="#505050" stroke-width="1"/>
<ellipse cx="107.1" cy="454.6" rx="2.65" ry="3.8" fill="none" stroke="#505050" stroke-width="1"/><text x="116.7" y="458.9" text-anchor="middle" font-family="Liberation Mono" font-size="13" fill="#505050">.</text><text x="126.3" y="458.9" text-anchor="middle" font-family="Liberation Mono" font-size="13" fill="#505050">5</text>
<text x="178.5" y="458.9" text-anchor="middle" font-family="Liberation Mono" font-size="13" fill="#505050">1</text>
<text x="236.2" y="458.9" text-anchor="middle" font-family="Liberation Mono" font-size="13" fill="#505050">1</text><text x="245.8" y="458.9" text-anchor="middle" font-family="Liberation Mono" font-size="13" fill="#505050">.</text><text x="255.4" y="458.9" text-anchor="middle" font-family="Liberation Mono" font-size="13" fill="#505050">5</text>
<text x="308.9" y="458.9" text-anchor="middle" font-family="Liberation Mono" font-size="13" fill="#505050">2</text>
<text x="366.2" y="458.9" text-anchor="middle" font-family="Liberation Mono" font-size="13" fill="#505050">2</text><text x="375.8" y="458.9" text-anchor="middle" font-family="Liberation Mono" font-size="13" fill="#505050">.</text><text x="385.4" y="458.9" text-anchor="middle" font-family="Liberation Mono" font-size="13" fill="#505050">5</text>
<text x="438.2" y="458.9" text-anchor="middle" font-family="Liberation Mono" font-size="13" fill="#505050">3</text>
<text x="496.0" y="458.9" text-anchor="middle" font-family="Liberation Mono" font-size="13" fill="#505050">3</text><text x="505.6" y="458.9" text-anchor="middle" font-family="Liberation Mono" font-size="13" fill="#505050">.</text><text x="515.2" y="458.9" text-anchor="middle" font-family="Liberation Mono" font-size="13" fill="#505050">5</text>
<text x="568.2" y="458.9" text-anchor="middle" font-family="Liberation Mono" font-size="13" fill="#505050">4</text>
<ellipse cx="25.4" cy="439.6" rx="2.65" ry="3.8" fill="none" stroke="#505050" stroke-width="1"/><text x="35.0" y="443.9" text-anchor="middle" font-family="Liberation Mono" font-size="13" fill="#505050">.</text><text x="44.6" y="443.9" text-anchor="middle" font-family="Liberation Mono" font-size="13" fill="#505050">4</text>
<ellipse cx="25.4" cy="378.9" rx="2.65" ry="3.8" fill="none" stroke="#505050" stroke-width="1"/><text x="35.0" y="383.2" text-anchor="middle" font-family="Liberation Mono" font-size="13" fill="#505050">.</text><text x="44.6" y="383.2" text-anchor="middle" font-family="Liberation Mono" font-size="13" fill="#505050">6</text>
<ellipse cx="25.4" cy="318.2" rx="2.65" ry="3.8" fill="none" stroke="#505050" stroke-width="1"/><text x="35.0" y="322.5" text-anchor="middle" font-family="Liberation Mono" font-size="13" fill="#505050">.</text><text x="44.6" y="322.5" text-anchor="middle" font-family="Liberation Mono" font-size="13" fill="#505050">8</text>
<text x="39.2" y="261.8" text-anchor="middle" font-family="Liberation Mono" font-size="13" fill="#505050">1</text>
<text x="25.4" y="201.1" text-anchor="middle" font-family="Liberation Mono" font-size="13" fill="#505050">1</text><text x="35.0" y="201.1" text-anchor="middle" font-family="Liberation Mono" font-size="13" fill="#505050">.</text><text x="44.6" y="201.1" text-anchor="middle" font-family="Liberation Mono" font-size="13" fill="#505050">2</text>
<text x="25.4" y="140.4" text-anchor="middle" font-family="Liberation Mono" font-size="13" fill="#505050">1</text><text x="35.0" y="140.4" text-anchor="middle" font-family="Liberation Mono" font-size="13" fill="#505050">.</text><text x="44.6" y="140.4" text-anchor="middle" font-family="Liberation Mono" font-size="13" fill="#505050">4</text>
<text x="25.4" y="79.7" text-anchor="middle" font-family="Liberation Mono" font-size="13" fill="#505050">1</text><text x="35.0" y="79.7" text-anchor="middle" font-family="Liberation Mono" font-size="13" fill="#505050">.</text><text x="44.6" y="79.7" text-anchor="middle" font-family="Liberation Mono" font-size="13" fill="#505050">6</text>
<text x="260.8" y="478.6" font-family="Liberation Serif" font-size="21.4" fill="#000" textLength="106.2" lengthAdjust="spacingAndGlyphs">Time [hours]</text>
<text transform="translate(13.5 317) rotate(-90)" font-family="Liberation Serif" font-size="21.4" fill="#000" textLength="160.5" lengthAdjust="spacingAndGlyphs">Relative angle [rad]</text>
</svg>
</body></html>
